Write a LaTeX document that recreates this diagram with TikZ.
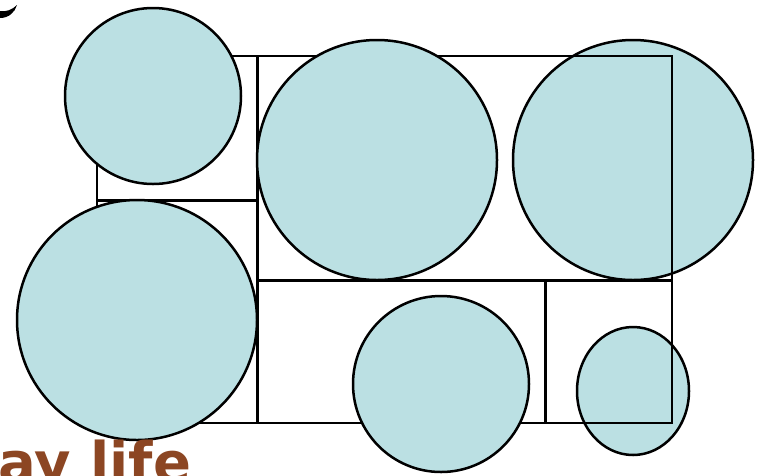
\documentclass[tikz,border=0pt]{standalone}
\usepackage{fontspec}
\newfontfamily\labelfont{DejaVu Sans}
\definecolor{discblue}{RGB}{187,224,227}
\definecolor{wordbrown}{RGB}{140,70,35}
\tikzset{
  disc/.style={draw=black, fill=discblue, line width=2.5pt},
  frame/.style={draw=black, line width=2.4pt},
  divider/.style={draw=black, line width=3pt}
}
\begin{document}
\begin{tikzpicture}[x=1pt, y=-1pt]
\useasboundingbox (0,0) rectangle (757,475);
\clip (0,0) rectangle (757,475);
\fill[black] (0,18) .. controls (9,18) and (15,12) .. (17,5) .. controls (12,10) and (6,12) .. (0,11) -- cycle;
% discs lying under the frame
\draw[disc] (633,160) circle (120);
\draw[disc] (633,391) ellipse (56 and 64);
% frame and dividers
\draw[frame] (97,56) rectangle (672,423);
\draw[divider] (257,56) -- (257,423);
\draw[divider] (97,200) -- (257,200);
\draw[divider] (257,280) -- (672,280);
\draw[divider] (545,280) -- (545,423);
% discs lying over the frame
\draw[disc] (153,96) circle (88);
\draw[disc] (377,160) circle (120);
\draw[disc] (137,320) circle (120);
\draw[disc] (441,384) circle (88);
\node[anchor=base west, inner sep=0pt, text=wordbrown, font=\labelfont\bfseries\fontsize{56}{60}\selectfont] (word) at (-2,482) {ay life};
\end{tikzpicture}
\end{document}
